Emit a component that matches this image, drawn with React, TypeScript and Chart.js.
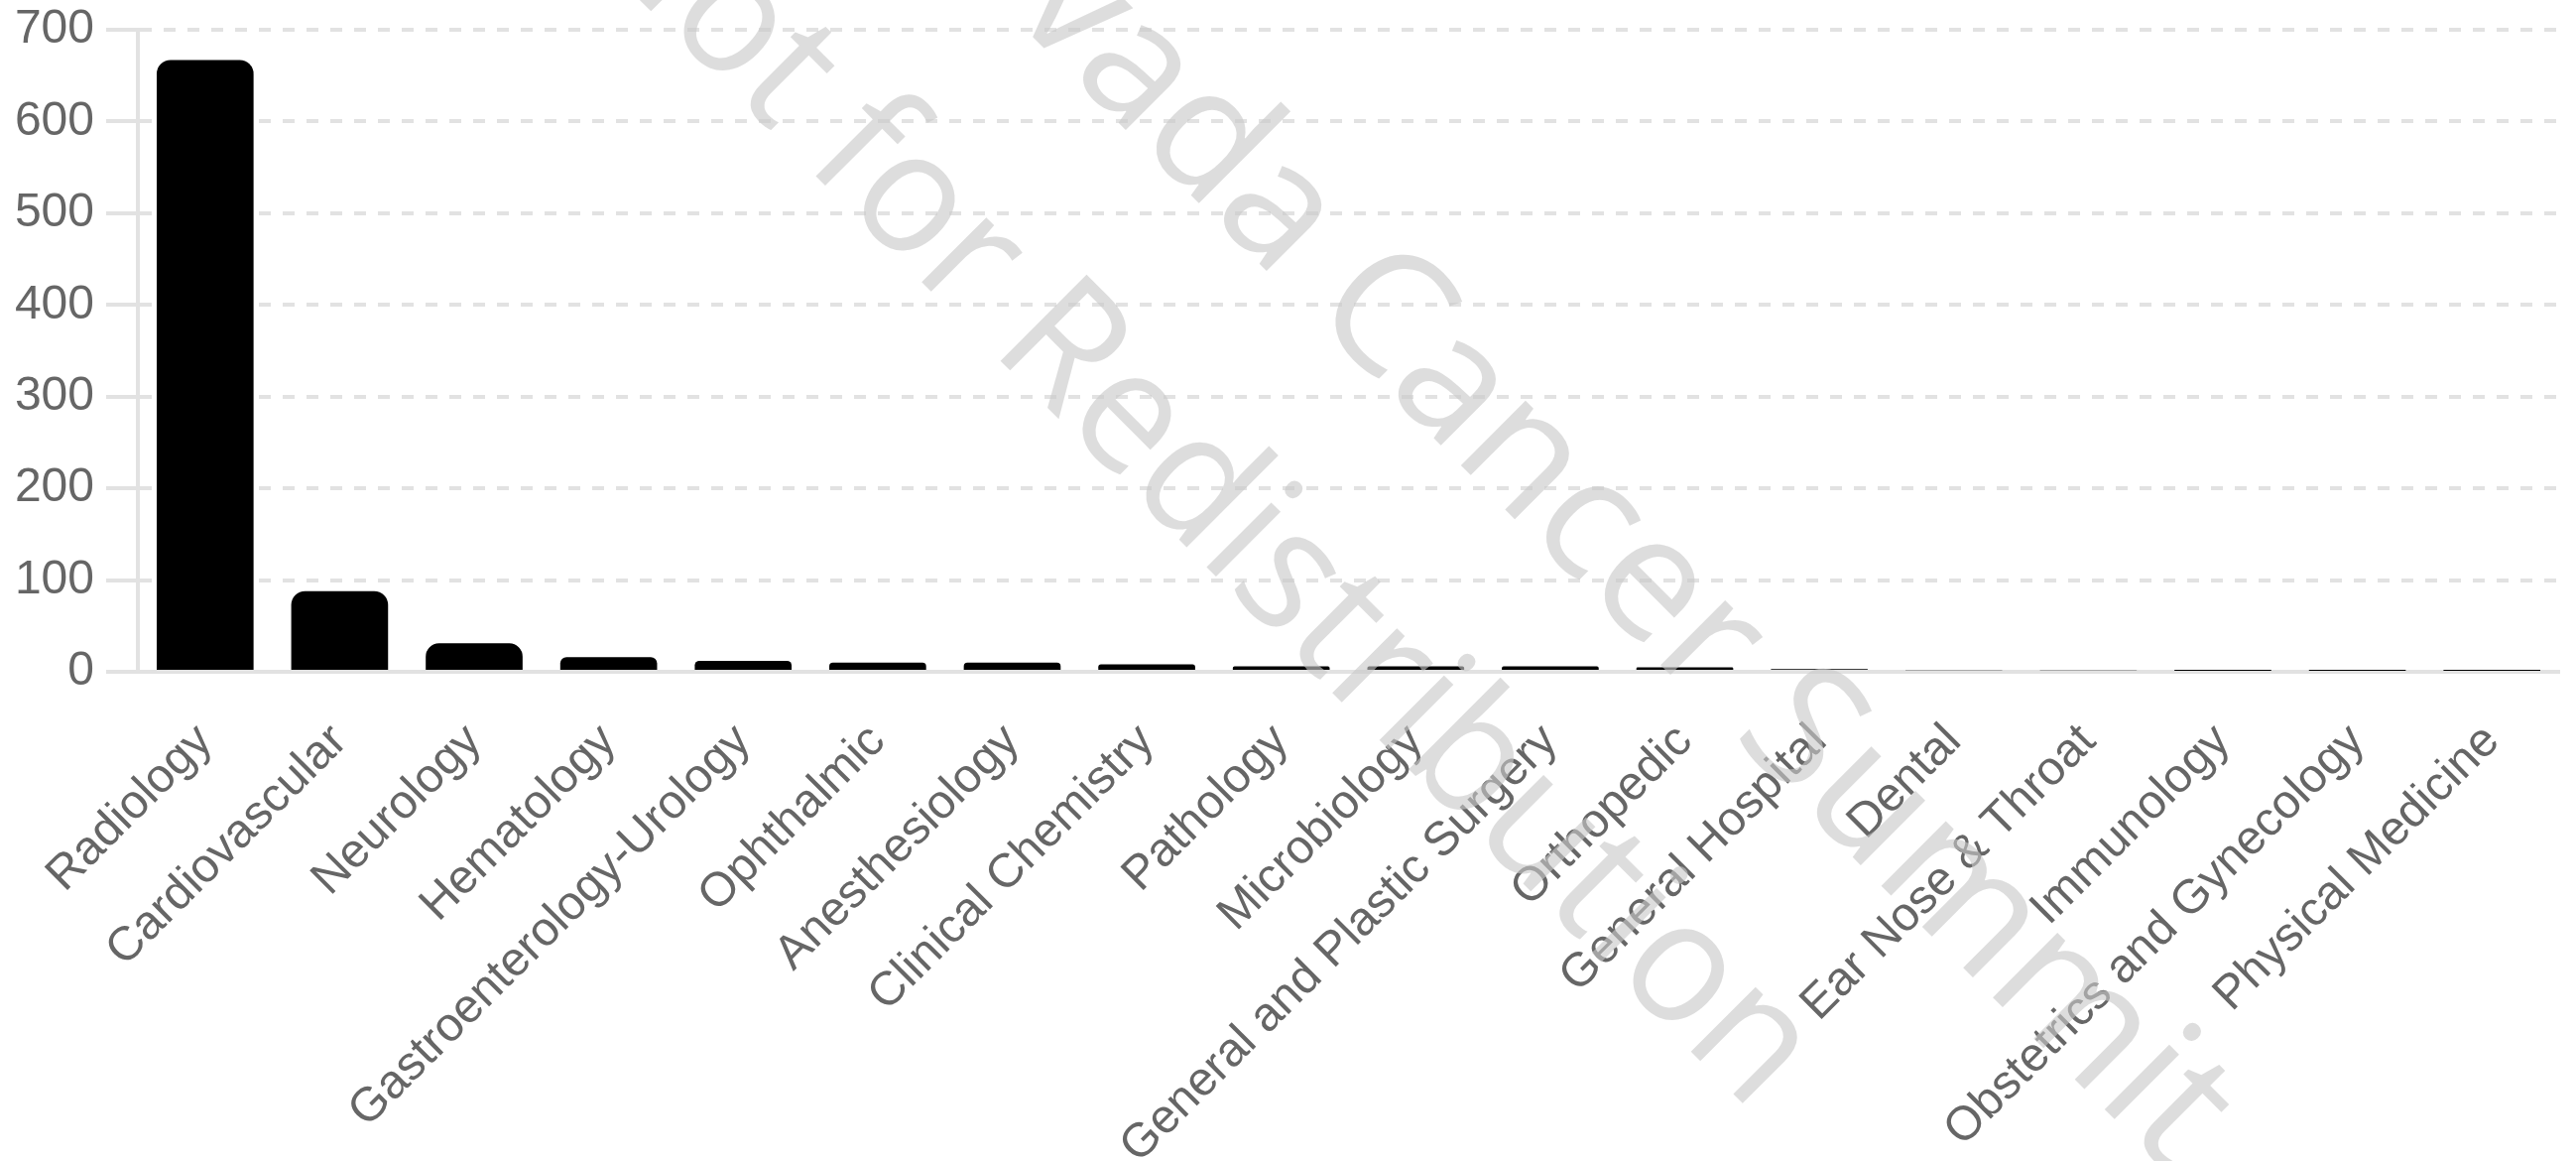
import React, { useEffect, useRef } from "react";
import { Chart, registerables } from "chart.js";

Chart.register(...registerables);

const categories = [
  "Radiology",
  "Cardiovascular",
  "Neurology",
  "Hematology",
  "Gastroenterology-Urology",
  "Ophthalmic",
  "Anesthesiology",
  "Clinical Chemistry",
  "Pathology",
  "Microbiology",
  "General and Plastic Surgery",
  "Orthopedic",
  "General Hospital",
  "Dental",
  "Ear Nose & Throat",
  "Immunology",
  "Obstetrics and Gynecology",
  "Physical Medicine",
];

const counts = [667, 88, 31, 16, 12, 10, 10, 8, 6, 6, 6, 5, 3, 2, 2, 1, 1, 1];

const yMin = 0;
const yMax = 700;
const yStep = 100;

const watermarkLines = ["Not for Redistribution", "Nevada Cancer Summit"];

const W = 2597;
const H = 1170;
const FONT = "'Liberation Sans', Arial, Helvetica, sans-serif";

const watermarkPlugin = {
  id: "watermark",
  afterDraw(chart: any) {
    const ctx = chart.ctx;
    const spots = [
      { x: 1173, y: 528, sx: 0.96 },
      { x: 1521, y: 517, sx: 1 },
    ];
    ctx.save();
    ctx.font = "172px 'Open Sans', 'Noto Sans', sans-serif";
    ctx.fillStyle = "rgba(200,200,200,0.62)";
    ctx.textAlign = "center";
    ctx.textBaseline = "alphabetic";
    watermarkLines.forEach((t, i) => {
      ctx.save();
      ctx.translate(spots[i].x, spots[i].y);
      ctx.rotate(Math.PI / 4);
      ctx.scale(spots[i].sx, 1);
      ctx.fillText(t, 0, 0);
      ctx.restore();
    });
    ctx.restore();
  },
};

export default function App() {
  const ref = useRef<HTMLCanvasElement | null>(null);

  useEffect(() => {
    if (!ref.current) return;
    const chart = new Chart(ref.current, {
      type: "bar",
      data: {
        labels: categories,
        datasets: [
          {
            data: counts,
            backgroundColor: "#000000",
            borderRadius: 14,
            borderSkipped: "start",
          },
        ],
      },
      options: {
        responsive: false,
        devicePixelRatio: 1,
        animation: false,
        layout: { padding: { right: 17, top: 0, left: 0, bottom: 0 } },
        plugins: {
          legend: { display: false },
          tooltip: { enabled: false },
          title: { display: false },
        },
        scales: {
          x: {
            grid: { display: false, drawTicks: false },
            border: { display: true, color: "#e2e2e2", width: 4 },
            ticks: {
              color: "#666666",
              font: { family: FONT, size: 48 },
              minRotation: 45,
              maxRotation: 45,
              autoSkip: false,
              padding: 42,
            },
            afterFit: (scale: any) => {
              scale.height = 493;
            },
          },
          y: {
            min: yMin,
            max: yMax,
            ticks: {
              stepSize: yStep,
              color: "#666666",
              font: { family: FONT, size: 48 },
              padding: 12,
            },
            grid: {
              color: "#e2e2e2",
              lineWidth: 4,
              tickLength: 32,
              tickColor: "#e2e2e2",
              tickWidth: 4,
            },
            border: { display: true, color: "#e2e2e2", width: 4, dash: [12, 12] },
            afterFit: (scale: any) => {
              scale.width = 139;
              scale.paddingTop = 30;
            },
          },
        },
      },
      plugins: [watermarkPlugin],
    });
    return () => chart.destroy();
  }, []);

  return (
    <div style={{ position: "absolute", left: 0, top: 0, width: W, height: H, background: "#fff" }}>
      <canvas ref={ref} width={W} height={H} style={{ display: "block" }} />
    </div>
  );
}
